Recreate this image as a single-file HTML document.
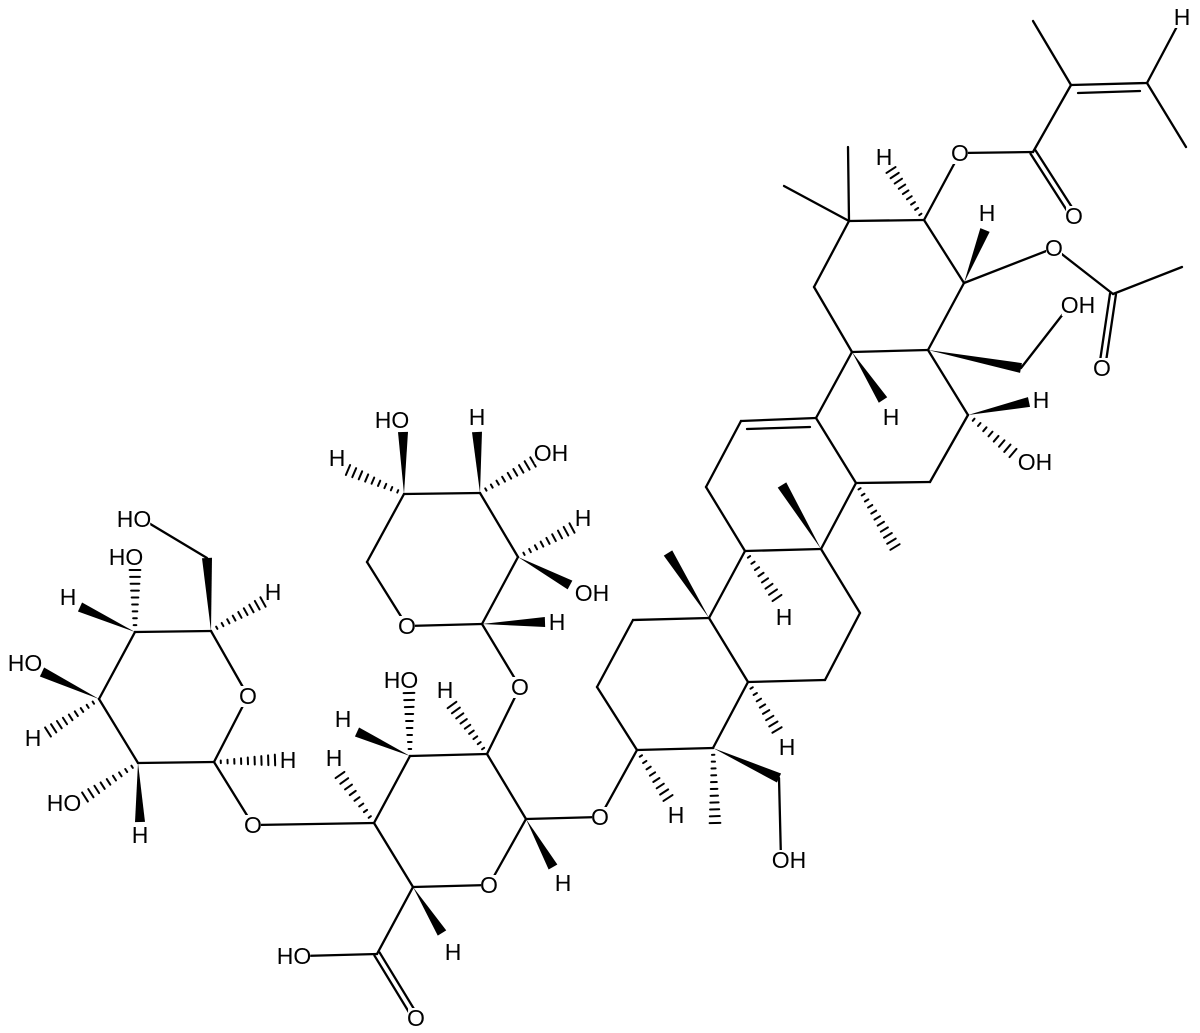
<!DOCTYPE html>
<html><head><meta charset="utf-8"><style>
html,body{margin:0;padding:0;background:#fff;width:1200px;height:1033px;overflow:hidden}
svg text{font-family:"Liberation Sans",sans-serif;font-size:23px;fill:#000;text-anchor:middle}
</style></head><body>
<svg id="s" width="1200" height="1033" viewBox="0 0 1200 1033" xmlns="http://www.w3.org/2000/svg">
<g id="bonds" stroke="#000" stroke-width="2.3" stroke-linecap="round" fill="#000"></g>
<g id="bg" fill="#fff"></g>
<g id="labels">
<text x="134" y="527">HO</text>
<text x="126" y="565">HO</text>
<text x="68" y="605">H</text>
<text x="25" y="671">HO</text>
<text x="33" y="746">H</text>
<text x="64" y="811">HO</text>
<text x="140" y="843">H</text>
<text x="273" y="600">H</text>
<text x="248" y="704">O</text>
<text x="288" y="768">H</text>
<text x="253" y="833">O</text>
<text x="392" y="428">HO</text>
<text x="337" y="466">H</text>
<text x="477" y="425">H</text>
<text x="551" y="461">OH</text>
<text x="583" y="526">H</text>
<text x="592" y="601">OH</text>
<text x="557" y="630">H</text>
<text x="407" y="634">O</text>
<text x="520" y="695">O</text>
<text x="401" y="688">HO</text>
<text x="445" y="698">H</text>
<text x="343" y="727">H</text>
<text x="334" y="766">H</text>
<text x="489" y="893">O</text>
<text x="563" y="891">H</text>
<text x="453" y="960">H</text>
<text x="294" y="964">HO</text>
<text x="416" y="1026">O</text>
<text x="600" y="825">O</text>
<text x="676" y="823">H</text>
<text x="789" y="868">OH</text>
<text x="787" y="755">H</text>
<text x="784" y="625">H</text>
<text x="891" y="425">H</text>
<text x="1078" y="313">OH</text>
<text x="1041" y="408">H</text>
<text x="1035" y="470">OH</text>
<text x="884" y="165">H</text>
<text x="960" y="161">O</text>
<text x="1074" y="224">O</text>
<text x="987" y="221">H</text>
<text x="1054" y="256">O</text>
<text x="1102" y="376">O</text>
<text x="1182" y="25">H</text>
</g>
</svg>
<script>
var NS="http://www.w3.org/2000/svg",G=document.getElementById("bonds");
function el(t,a){var e=document.createElementNS(NS,t);for(var k in a)e.setAttribute(k,a[k]);G.appendChild(e);return e;}
function b(x1,y1,x2,y2){el("line",{x1:x1,y1:y1,x2:x2,y2:y2});}
function d(x1,y1,x2,y2){var dx=x2-x1,dy=y2-y1,L=Math.hypot(dx,dy),nx=-dy/L*3,ny=dx/L*3;b(x1+nx,y1+ny,x2+nx,y2+ny);b(x1-nx,y1-ny,x2-nx,y2-ny);}
function w(x1,y1,x2,y2){var dx=x2-x1,dy=y2-y1,L=Math.hypot(dx,dy),nx=-dy/L*5,ny=dx/L*5;el("polygon",{points:x1+","+y1+" "+(x2+nx)+","+(y2+ny)+" "+(x2-nx)+","+(y2-ny),stroke:"none"});}
function h(x1,y1,x2,y2){var dx=x2-x1,dy=y2-y1,L=Math.hypot(dx,dy),ux=-dy/L,uy=dx/L,n=Math.max(6,Math.round(L/7));for(var i=1;i<=n;i++){var t=i/n,cx=x1+dx*t,cy=y1+dy*t,hw=0.8+4.6*t;el("line",{x1:cx+ux*hw,y1:cy+uy*hw,x2:cx-ux*hw,y2:cy-uy*hw,"stroke-width":2});}}
var B=[[211,631,135,632],[135,632,99,699],[99,699,138,763],[138,763,214,762],[214,762,248,696],[248,696,211,631],[207,558,142,519],[214,762,253,825],[253,825,374,823],
[404,494,480,493],[480,493,518,557],[518,557,482,624],[482,624,407,626],[407,626,367,562],[367,562,404,494],[482,624,520,687],[520,687,487,754],
[410,756,487,754],[487,754,526,819],[526,819,489,885],[489,885,413,887],[413,887,374,823],[374,823,410,756],[526,819,600,817],[413,887,377,954],[377,954,302,956],
[600,817,637,750],[637,750,713,748],[713,748,748,682],[748,682,709,618],[709,618,633,620],[633,620,597,687],[597,687,637,750],
[779,778,781,860],[709,618,745,551],[745,551,821,549],[821,549,860,613],[860,613,825,680],[825,680,748,682],
[745,551,706,487],[706,487,741,421],[741,421,816,418],[821,549,856,483],[856,483,930,482],[930,482,968,415],[816,418,856,483],
[816,418,852,352],[852,352,928,350],[928,350,968,415],[852,352,814,287],[814,287,849,221],[849,221,924,220],[924,220,964,283],[964,283,928,350],
[849,221,848,147],[849,221,784,186],[924,220,960,153],[960,153,1033,152],[1033,152,1071,85],[1071,85,1033,21],[1071,85,1147,83],[1147,83,1182,17],[1147,83,1186,147],
[964,283,1054,248],[1054,248,1113,294],[1113,294,1182,267],[1021,368,1070,305],
[747,429,810,427],[1078,93,1140,91]];
B.forEach(function(a){b.apply(null,a);});
[[377,954,416,1018],[1033,152,1074,216],[1113,294,1102,368]].forEach(function(a){d.apply(null,a);});
[[211,631,207,558],[135,632,80,607],[99,699,42,672],[138,763,140,822],[404,494,403,432],[480,493,477,432],[518,557,570,585],[482,624,545,622],
[410,756,357,732],[526,819,553,867],[413,887,442,933],
[713,748,779,778],[709,618,668,553],[821,549,782,485],[852,352,883,400],[928,350,1021,368],[968,415,1029,402],[964,283,985,230]].forEach(function(a){w.apply(null,a);});
[[211,631,263,602],[135,632,135,570],[99,699,48,732],[138,763,85,797],[214,762,275,760],
[404,494,348,470],[480,493,533,462],[518,557,572,528],
[487,754,452,705],[410,756,409,693],[374,823,340,775],
[637,750,668,798],[713,748,715,823],[748,682,777,730],[745,551,777,598],[856,483,895,547],[924,220,891,170],[968,415,1013,453]].forEach(function(a){h.apply(null,a);});
var bg=document.getElementById("bg");
Array.prototype.forEach.call(document.querySelectorAll("#labels text"),function(t){var r=t.getBBox();var e=document.createElementNS(NS,"rect");e.setAttribute("x",r.x+1);e.setAttribute("y",r.y+3);e.setAttribute("width",r.width-2);e.setAttribute("height",r.height-5);bg.appendChild(e);});
</script>
</body></html>
